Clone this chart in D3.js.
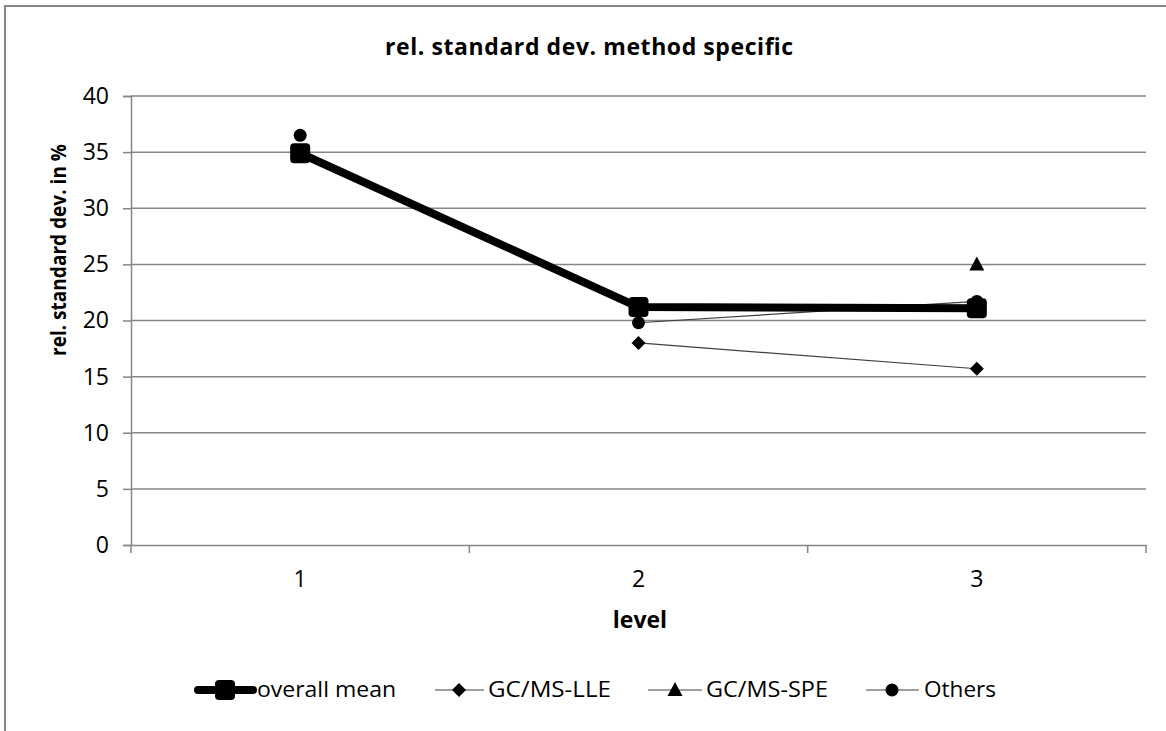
<!DOCTYPE html>
<html><head><meta charset="utf-8">
<script src="https://cdn.jsdelivr.net/npm/d3@7"></script>
<style>body{margin:0;background:#fff}svg{display:block}text{font-family:"Open Sans",sans-serif}</style>
</head><body><svg id="c" width="1166" height="731"></svg>
<script>
const levels = ["1","2","3"];
const yTicks = [0,5,10,15,20,25,30,35,40];
const overallMean = [34.9, 21.2, 21.1];
const gcmsLLE = [null, 18.0, 15.7];
const gcmsSPE = [null, null, 25.0];
const others = [36.5, 19.8, 21.7];
const othersLinked = [false, true, true];
const seriesNames = ["overall mean","GC/MS-LLE","GC/MS-SPE","Others"];

const svg = d3.select("#c");
const m = {l:131, r:1146, t:96, b:545};
const x = d3.scaleBand().domain(levels).range([m.l, m.r]);
const y = d3.scaleLinear().domain([0,40]).range([m.b, m.t]);
const cx = d => x(d) + x.bandwidth()/2;

// outer border
svg.append("rect").attr("x",5).attr("y",6).attr("width",1180).attr("height",760)
  .attr("fill","none").attr("stroke","#868686").attr("stroke-width",2);

// gridlines
svg.append("g").selectAll("line").data(yTicks.filter(t=>t>0)).join("line")
  .attr("x1",m.l).attr("x2",m.r).attr("y1",d=>y(d)).attr("y2",d=>y(d))
  .attr("stroke","#868686").attr("stroke-width",1.5);

// y axis
const ya = svg.append("g").attr("transform",`translate(${m.l},0)`)
  .call(d3.axisLeft(y).tickValues(yTicks).tickSize(8).tickPadding(14));
ya.select(".domain").attr("stroke","#868686").attr("stroke-width",1.5);
ya.selectAll(".tick line").attr("stroke","#868686").attr("stroke-width",1.5);
ya.selectAll("text").attr("font-size",23).attr("fill","#000").attr("font-family","Open Sans");

// x axis
const xa = svg.append("g").attr("transform",`translate(0,${m.b})`)
  .call(d3.axisBottom(x).tickSize(0).tickPadding(26));
xa.select(".domain").attr("stroke","#868686").attr("stroke-width",1.5);
xa.selectAll("text").attr("font-size",23).attr("fill","#000").attr("font-family","Open Sans");
const bounds = levels.map(l=>x(l)).concat([m.r]);
svg.append("g").selectAll("line").data(bounds).join("line")
  .attr("x1",d=>d).attr("x2",d=>d).attr("y1",m.b).attr("y2",m.b+8)
  .attr("stroke","#868686").attr("stroke-width",1.5);

// titles
svg.append("text").attr("x",589).attr("y",55).attr("text-anchor","middle")
  .attr("font-size",23).attr("font-weight","bold").attr("textLength",408).attr("lengthAdjust","spacing")
  .text("rel. standard dev. method specific");
svg.append("text").attr("transform","translate(66,250) rotate(-90)").attr("text-anchor","middle")
  .attr("font-size",22).attr("font-weight","bold").attr("textLength",212).attr("lengthAdjust","spacingAndGlyphs")
  .text("rel. standard dev. in %");
svg.append("text").attr("x",640).attr("y",628).attr("text-anchor","middle")
  .attr("font-size",23).attr("font-weight","bold").text("level");

// symbols
function drawSym(g, type, px, py) {
  if (type==="square") {
    g.append("rect").attr("x",px-10).attr("y",py-10).attr("width",20).attr("height",20)
      .attr("rx",4).attr("fill","#000");
  } else if (type==="diamond") {
    g.append("path").attr("d",`M${px},${py-7}L${px+7},${py}L${px},${py+7}L${px-7},${py}Z`).attr("fill","#000");
  } else if (type==="triangle") {
    g.append("path").attr("d",`M${px},${py-8}L${px+7.5},${py+6}L${px-7.5},${py+6}Z`).attr("fill","#000");
  } else {
    g.append("circle").attr("cx",px).attr("cy",py).attr("r",6.5).attr("fill","#000");
  }
}

const plot = svg.append("g");
const thin = (vals, linked) => d3.line()
  .defined((d,i)=>d!=null && (!linked || linked[i]))
  .x((d,i)=>cx(levels[i])).y(d=>y(d));

[[gcmsLLE,null],[gcmsSPE,null],[others,othersLinked]].forEach(([vals,lk])=>{
  plot.append("path").datum(vals).attr("d",thin(vals,lk))
    .attr("fill","none").attr("stroke","#404040").attr("stroke-width",1.2);
});
plot.append("path").datum(overallMean).attr("d",thin(overallMean,null))
  .attr("fill","none").attr("stroke","#000").attr("stroke-width",8).attr("stroke-linejoin","round");

const sets = [[gcmsLLE,"diamond"],[gcmsSPE,"triangle"],[others,"circle"],[overallMean,"square"]];
sets.forEach(([vals,t])=>{
  vals.forEach((v,i)=>{ if(v!=null) drawSym(plot,t,cx(levels[i]),y(v)); });
});

// legend
const ly = 690;
const leg = [
  {name:seriesNames[0], t:"square", x1:198, x2:253, mx:225, tx:257, tw:139, w:8},
  {name:seriesNames[1], t:"diamond", x1:435, x2:484, mx:459, tx:488, tw:123, w:1.2},
  {name:seriesNames[2], t:"triangle", x1:648, x2:702, mx:675, tx:706, tw:122, w:1.2},
  {name:seriesNames[3], t:"circle", x1:866, x2:919, mx:892, tx:924, tw:72, w:1.2}
];
const lg = svg.append("g");
leg.forEach(d=>{
  lg.append("line").attr("x1",d.x1).attr("x2",d.x2).attr("y1",ly).attr("y2",ly)
    .attr("stroke",d.w>2?"#000":"#404040").attr("stroke-width",d.w).attr("stroke-linecap",d.w>2?"round":"butt");
  drawSym(lg,d.t,d.mx,ly);
  lg.append("text").attr("x",d.tx).attr("y",ly+7).attr("font-size",22)
    .attr("textLength",d.tw).attr("lengthAdjust","spacingAndGlyphs").text(d.name);
});
</script></body></html>
